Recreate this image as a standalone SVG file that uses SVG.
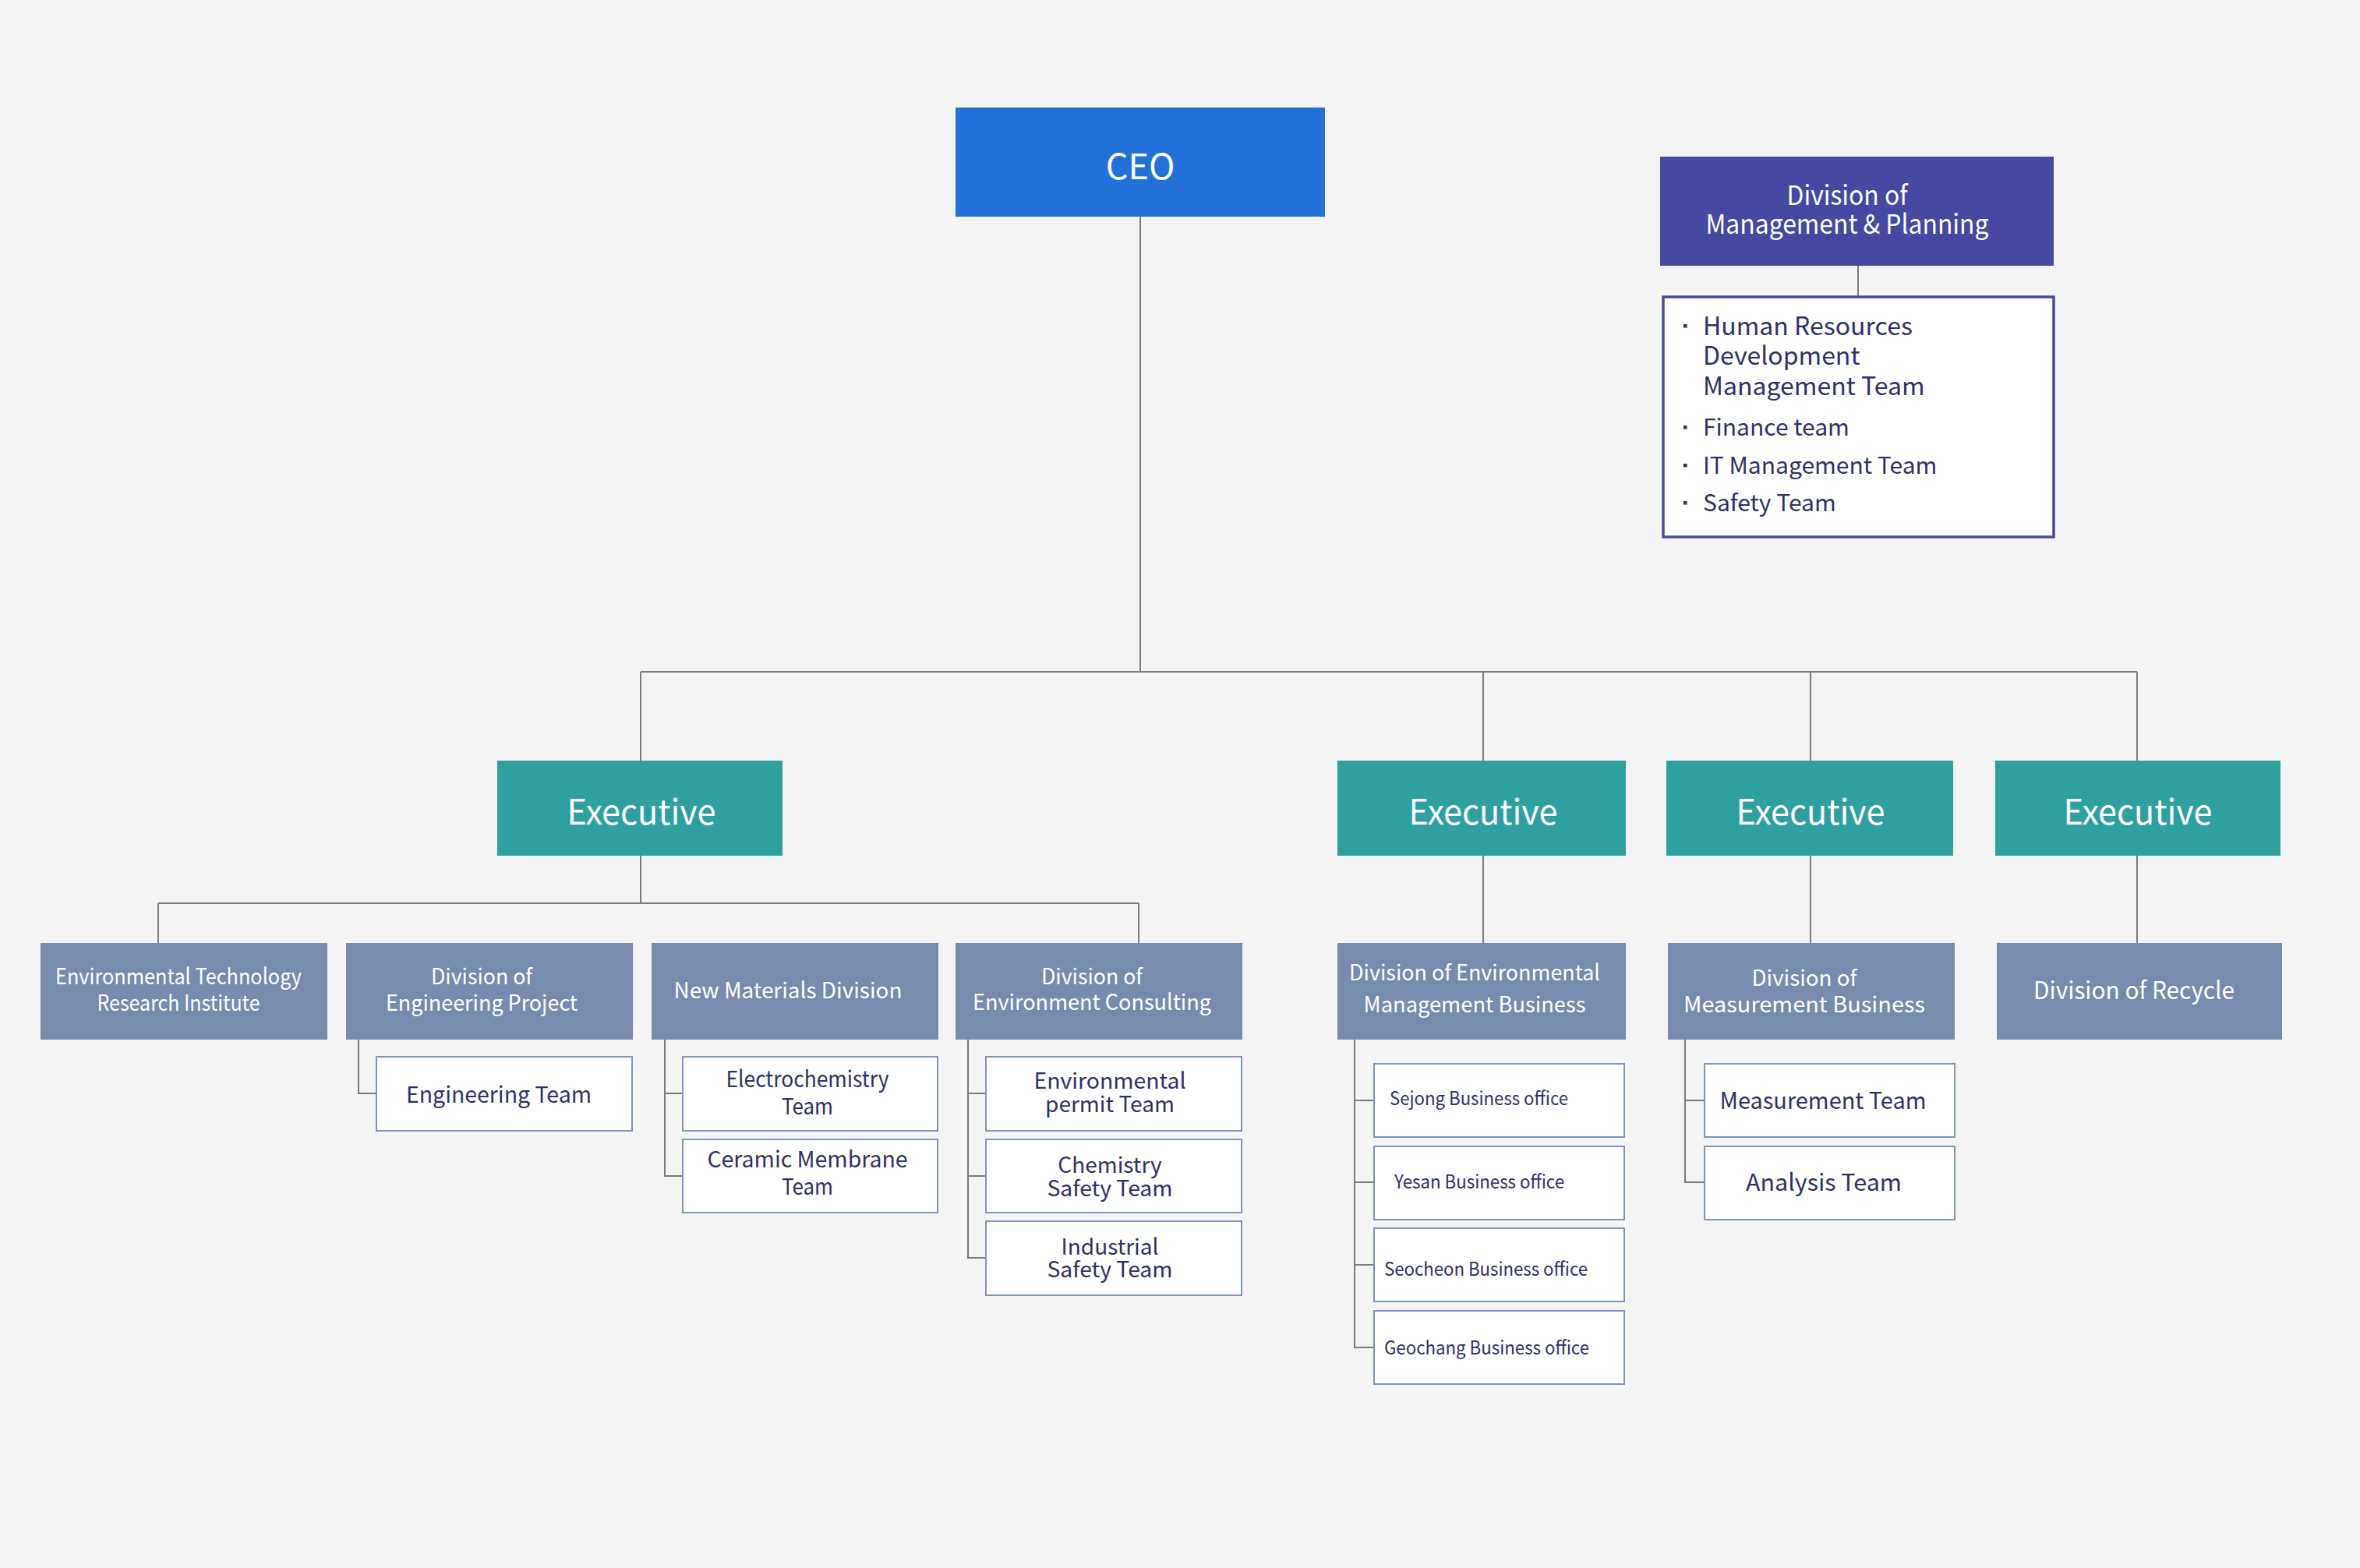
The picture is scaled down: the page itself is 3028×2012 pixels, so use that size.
<svg xmlns="http://www.w3.org/2000/svg" width="3028" height="2012" viewBox="0 0 3028 2012">
<style>
text{font-family:"Noto Sans CJK KR","Noto Sans",sans-serif}
.ceo{fill:#2271D9}
.mgmt{fill:#4549A2}
.exec{fill:#2FA0A0}
.div{fill:#778BAE}
.sub{fill:#FFFFFF;stroke:#8094BC;stroke-width:2}
.list{fill:#FFFFFF;stroke:#4549A2;stroke-width:3.5}
.w{fill:#FFFFFF;text-anchor:middle}
.n{fill:#2E3166;text-anchor:middle}
.nl{fill:#2E3166}
.big{font-size:45px}
.dv{font-size:28px}
.tm{font-size:29px}
.of{font-size:24px}
.conn{fill:none;stroke:#7A7A7A;stroke-width:2}
.bul{fill:#2E3166}
</style>
<rect width="3028" height="2012" fill="#F4F4F4"/>

<g id="connectors">
<path class="conn" d="M1463 278V862M822 862H2742M822 862V976M1903 862V976M2323 862V976M2742 862V976"/>
<path class="conn" d="M2384 341V380"/>
<path class="conn" d="M822 1098V1159M203 1159H1461M203 1159V1210M1461 1159V1210"/>
<path class="conn" d="M1903 1098V1210M2323 1098V1210M2742 1098V1210"/>
<path class="conn" d="M460 1334V1403H482"/>
<path class="conn" d="M853 1334V1509H875M853 1403H875"/>
<path class="conn" d="M1242 1334V1614H1264M1242 1403H1264M1242 1509H1264"/>
<path class="conn" d="M1738 1334V1729H1762M1738 1412H1762M1738 1517H1762M1738 1623H1762"/>
<path class="conn" d="M2162 1334V1517H2186M2162 1412H2186"/>
</g>

<g id="ceo">
<rect class="ceo" x="1226" y="138" width="474" height="140"/>
<text class="w big" x="1463" y="230">CEO</text>
</g>

<g id="mgmt-planning">
<rect class="mgmt" x="2130" y="201" width="505" height="140"/>
<text class="w" style="font-size:34px" x="2370" y="263" textLength="155" lengthAdjust="spacingAndGlyphs">Division of</text>
<text class="w" style="font-size:34px" x="2370" y="300" textLength="363" lengthAdjust="spacingAndGlyphs">Management &amp; Planning</text>
</g>

<g id="mgmt-teams">
<rect class="list" x="2134" y="381" width="501" height="308"/>
<rect class="bul" x="2160" y="416" width="4.5" height="4.5"/>
<rect class="bul" x="2160" y="546" width="4.5" height="4.5"/>
<rect class="bul" x="2160" y="595" width="4.5" height="4.5"/>
<rect class="bul" x="2160" y="643" width="4.5" height="4.5"/>
<text class="nl" style="font-size:32px" x="2185" y="430">Human Resources</text>
<text class="nl" style="font-size:32px" x="2185" y="468">Development</text>
<text class="nl" style="font-size:32px" x="2185" y="507">Management Team</text>
<text class="nl" style="font-size:30px" x="2185" y="559">Finance team</text>
<text class="nl" style="font-size:30px" x="2185" y="608">IT Management Team</text>
<text class="nl" style="font-size:30px" x="2185" y="656">Safety Team</text>
</g>

<g id="exec1">
<rect class="exec" x="638" y="976" width="366" height="122"/>
<text class="w big" x="823" y="1058" textLength="191" lengthAdjust="spacingAndGlyphs">Executive</text>
</g>
<g id="exec2">
<rect class="exec" x="1716" y="976" width="370" height="122"/>
<text class="w big" x="1903" y="1058" textLength="191" lengthAdjust="spacingAndGlyphs">Executive</text>
</g>
<g id="exec3">
<rect class="exec" x="2138" y="976" width="368" height="122"/>
<text class="w big" x="2323" y="1058" textLength="191" lengthAdjust="spacingAndGlyphs">Executive</text>
</g>
<g id="exec4">
<rect class="exec" x="2560" y="976" width="366" height="122"/>
<text class="w big" x="2743" y="1058" textLength="191" lengthAdjust="spacingAndGlyphs">Executive</text>
</g>

<g id="env-tech-institute">
<rect class="div" x="52" y="1210" width="368" height="124"/>
<text class="w dv" x="229" y="1263" textLength="316" lengthAdjust="spacingAndGlyphs">Environmental Technology</text>
<text class="w dv" x="229" y="1297" textLength="209" lengthAdjust="spacingAndGlyphs">Research Institute</text>
</g>
<g id="engineering-project">
<rect class="div" x="444" y="1210" width="368" height="124"/>
<text class="w dv" x="618" y="1263" textLength="130" lengthAdjust="spacingAndGlyphs">Division of</text>
<text class="w dv" x="618" y="1297" textLength="246" lengthAdjust="spacingAndGlyphs">Engineering Project</text>
</g>
<g id="new-materials">
<rect class="div" x="836" y="1210" width="368" height="124"/>
<text class="w dv" x="1011" y="1281" textLength="293" lengthAdjust="spacingAndGlyphs">New Materials Division</text>
</g>
<g id="env-consulting">
<rect class="div" x="1226" y="1210" width="368" height="124"/>
<text class="w dv" x="1401" y="1263" textLength="130" lengthAdjust="spacingAndGlyphs">Division of</text>
<text class="w dv" x="1401" y="1296" textLength="306" lengthAdjust="spacingAndGlyphs">Environment Consulting</text>
</g>
<g id="env-mgmt-business">
<rect class="div" x="1716" y="1210" width="370" height="124"/>
<text class="w dv" x="1892" y="1258" textLength="322" lengthAdjust="spacingAndGlyphs">Division of Environmental</text>
<text class="w dv" x="1892" y="1299" textLength="285" lengthAdjust="spacingAndGlyphs">Management Business</text>
</g>
<g id="measurement-business">
<rect class="div" x="2140" y="1210" width="368" height="124"/>
<text class="w dv" x="2315" y="1265" textLength="135" lengthAdjust="spacingAndGlyphs">Division of</text>
<text class="w dv" x="2315" y="1299" textLength="310" lengthAdjust="spacingAndGlyphs">Measurement Business</text>
</g>
<g id="recycle">
<rect class="div" x="2562" y="1210" width="366" height="124"/>
<text class="w" style="font-size:31px" x="2738" y="1282" textLength="258" lengthAdjust="spacingAndGlyphs">Division of Recycle</text>
</g>

<g id="engineering-team">
<rect class="sub" x="483" y="1356" width="328" height="95"/>
<text class="n tm" x="640" y="1415" textLength="238" lengthAdjust="spacingAndGlyphs">Engineering Team</text>
</g>
<g id="electrochemistry-team">
<rect class="sub" x="876" y="1356" width="327" height="95"/>
<text class="n tm" x="1036" y="1395" textLength="209" lengthAdjust="spacingAndGlyphs">Electrochemistry</text>
<text class="n tm" x="1036" y="1430" textLength="66" lengthAdjust="spacingAndGlyphs">Team</text>
</g>
<g id="ceramic-membrane-team">
<rect class="sub" x="876" y="1462" width="327" height="94"/>
<text class="n tm" x="1036" y="1498" textLength="257" lengthAdjust="spacingAndGlyphs">Ceramic Membrane</text>
<text class="n tm" x="1036" y="1533" textLength="66" lengthAdjust="spacingAndGlyphs">Team</text>
</g>
<g id="env-permit-team">
<rect class="sub" x="1265" y="1356" width="328" height="95"/>
<text class="n" x="1424" y="1397" style="font-size:28px" textLength="195" lengthAdjust="spacingAndGlyphs">Environmental</text>
<text class="n" x="1424" y="1427" style="font-size:28px" textLength="166" lengthAdjust="spacingAndGlyphs">permit Team</text>
</g>
<g id="chemistry-safety-team">
<rect class="sub" x="1265" y="1462" width="328" height="94"/>
<text class="n" x="1424" y="1505" style="font-size:28px">Chemistry</text>
<text class="n" x="1424" y="1535" style="font-size:28px" textLength="161" lengthAdjust="spacingAndGlyphs">Safety Team</text>
</g>
<g id="industrial-safety-team">
<rect class="sub" x="1265" y="1567" width="328" height="95"/>
<text class="n" x="1424" y="1610" style="font-size:28px">Industrial</text>
<text class="n" x="1424" y="1639" style="font-size:28px" textLength="161" lengthAdjust="spacingAndGlyphs">Safety Team</text>
</g>

<g id="sejong-office">
<rect class="sub" x="1763" y="1365" width="321" height="94"/>
<text class="nl of" x="1783" y="1418" textLength="229" lengthAdjust="spacingAndGlyphs">Sejong Business office</text>
</g>
<g id="yesan-office">
<rect class="sub" x="1763" y="1471" width="321" height="94"/>
<text class="nl of" x="1789" y="1525" textLength="218" lengthAdjust="spacingAndGlyphs">Yesan Business office</text>
</g>
<g id="seocheon-office">
<rect class="sub" x="1763" y="1576" width="321" height="94"/>
<text class="nl of" x="1776" y="1637" textLength="261" lengthAdjust="spacingAndGlyphs">Seocheon Business office</text>
</g>
<g id="geochang-office">
<rect class="sub" x="1763" y="1682" width="321" height="94"/>
<text class="nl of" x="1776" y="1738" textLength="263" lengthAdjust="spacingAndGlyphs">Geochang Business office</text>
</g>

<g id="measurement-team">
<rect class="sub" x="2187" y="1365" width="321" height="94"/>
<text class="n" style="font-size:30px" x="2339" y="1423" textLength="265" lengthAdjust="spacingAndGlyphs">Measurement Team</text>
</g>
<g id="analysis-team">
<rect class="sub" x="2187" y="1471" width="321" height="94"/>
<text class="n" style="font-size:30px" x="2340" y="1528" textLength="200" lengthAdjust="spacingAndGlyphs">Analysis Team</text>
</g>
</svg>
